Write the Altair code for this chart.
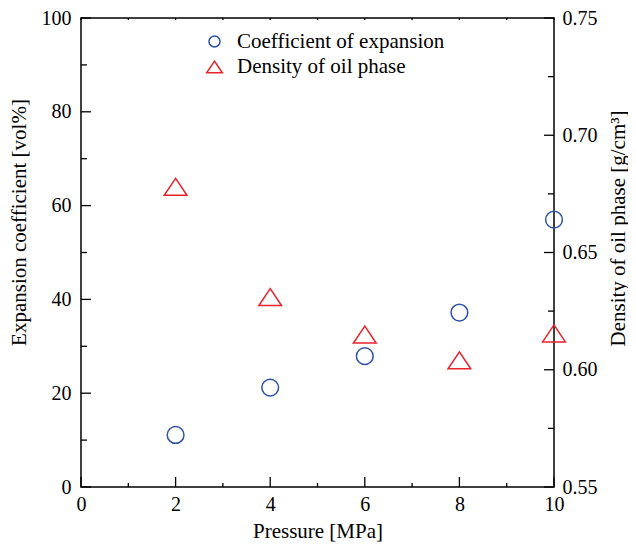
import altair as alt
import pandas as pd

# ---- data ----
pressure = [2, 4, 6, 8, 10]
expansion = [11.1, 21.2, 27.9, 37.2, 57.0]
density = [0.678, 0.631, 0.615, 0.604, 0.6155]
series_names = ["Coefficient of expansion", "Density of oil phase"]

x_major = [0, 2, 4, 6, 8, 10]
x_minor = [1, 3, 5, 7, 9]
left_major = [0, 20, 40, 60, 80, 100]
left_minor = [10, 30, 50, 70, 90]
right_major = [0.55, 0.60, 0.65, 0.70, 0.75]
right_minor = [0.575, 0.625, 0.675, 0.725]

FONT = "Liberation Serif"
BLUE = "#2f52a4"
RED = "#e8232b"
TRI = "M0,-1.06L-1.42,1.06L1.42,1.06Z"
W = 473
H = 469

df_exp = pd.DataFrame({"p": pressure, "v": expansion, "s": series_names[0]})
df_den = pd.DataFrame({"p": pressure, "v": density, "s": series_names[1]})

xs = alt.Scale(domain=[0, 10], nice=False, zero=False)
ys_left = alt.Scale(domain=[0, 100], nice=False, zero=False)
ys_right = alt.Scale(domain=[0.55, 0.75], nice=False, zero=False)

legend = alt.Legend(title=None, orient="none", legendX=123, legendY=13,
                    labelFont=FONT, labelFontSize=21, labelColor="black", labelLimit=0,
                    symbolSize=121, symbolStrokeWidth=1.5, labelOffset=12,
                    rowPadding=3.5, symbolFillColor="transparent", symbolOpacity=1)
color = alt.Color("s:N", scale=alt.Scale(domain=series_names, range=[BLUE, RED]), legend=legend)
shape = alt.Shape("s:N", scale=alt.Scale(domain=series_names, range=["circle", TRI]), legend=legend)

x_axis = alt.Axis(values=x_major, title="Pressure [MPa]", ticks=False, domain=False,
                  grid=False, format="d", labelPadding=7, titlePadding=6, labelFlush=False)
left_axis = alt.Axis(orient="left", values=left_major, title="Expansion coefficient [vol%]",
                     ticks=False, domain=False, grid=False, format="d", labelPadding=10,
                     labelFlush=False,
                     titleAngle=270, titleBaseline="middle", titleX=-62, titleY=204)
right_axis = alt.Axis(orient="right", values=right_major, title="Density of oil phase [g/cm³]",
                      ticks=False, domain=False, grid=False, format=".2f", labelPadding=8,
                      labelFlush=False,
                      titleAngle=270, titleBaseline="middle", titleX=64, titleY=210)

circles = alt.Chart(df_exp).mark_point(filled=False, size=280, strokeWidth=1.5, opacity=1).encode(
    x=alt.X("p:Q", scale=xs, axis=x_axis),
    y=alt.Y("v:Q", scale=ys_left, axis=left_axis),
    color=color, shape=shape,
)
triangles = alt.Chart(df_den).mark_point(filled=False, size=256, strokeWidth=1.5, opacity=1).encode(
    x=alt.X("p:Q", scale=xs, axis=x_axis),
    y=alt.Y("v:Q", scale=ys_right, axis=right_axis),
    color=color, shape=shape,
)

def yticks(vals, scale, x0, x1):
    return alt.Chart(pd.DataFrame({"t": vals})).mark_rule(color="black", strokeWidth=1.3).encode(
        y=alt.Y("t:Q", scale=scale, axis=None), x=alt.value(x0), x2=alt.value(x1))

def xticks(vals, y0, y1):
    return alt.Chart(pd.DataFrame({"t": vals})).mark_rule(color="black", strokeWidth=1.3).encode(
        x=alt.X("t:Q", scale=xs, axis=x_axis), y=alt.value(y0), y2=alt.value(y1))

layers = [
    circles,
    triangles,
    xticks(x_major, H, H - 10),
    xticks(x_minor, H, H - 4),
    xticks(x_major + x_minor, 0, 2),
    yticks(left_major, ys_left, 0, 10),
    yticks(left_minor, ys_left, 0, 6),
    yticks(right_major, ys_right, W, W - 10),
    yticks(right_minor, ys_right, W, W - 6),
]

chart = alt.layer(*layers).resolve_scale(y="independent").properties(
    width=W, height=H, autosize="none",
    padding={"left": 73, "top": 10, "right": 74, "bottom": 57},
).configure_view(stroke="black", strokeWidth=1.5, fill="white").configure_axis(
    labelFont=FONT, labelFontSize=20, labelColor="black",
    titleFont=FONT, titleFontSize=21, titleFontWeight="normal", titleColor="black",
)

chart.save("out.html", embed_options={"renderer": "svg", "actions": False})
